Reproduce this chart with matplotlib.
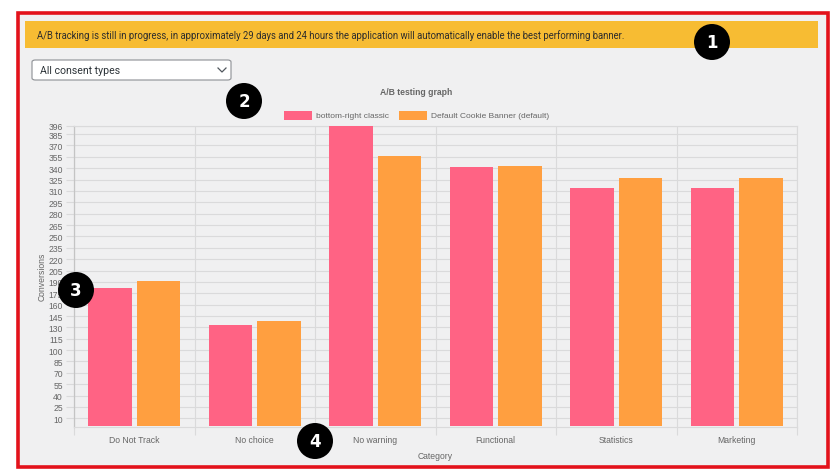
import matplotlib
matplotlib.use("Agg")
import matplotlib.pyplot as plt
from matplotlib.patches import Rectangle, Ellipse, FancyBboxPatch
import numpy as np

categories = ["Do Not Track", "No choice", "No warning", "Functional", "Statistics", "Marketing"]
series_names = ["bottom-right classic", "Default Cookie Banner (default)"]
classic_vals = [182, 133, 396, 342, 314, 314]
default_vals = [191, 139, 356, 343, 327, 327]
y_ticks = [10, 25, 40, 55, 70, 85, 100, 115, 130, 145, 160, 175, 190, 205, 220, 235,
           250, 265, 280, 295, 310, 325, 340, 355, 370, 385, 396]

W, H = 840, 477
PINK = "#ff6384"
ORANGE = "#ff9f40"
BG = "#f0f0f1"
GRID = "#dadadb"
TXT = "#666666"
FONT = "Liberation Sans"

fig = plt.figure(figsize=(W / 100, H / 100), dpi=100)
fig.patch.set_facecolor("white")

def fx(x):
    return x / W

def fy(y):
    return 1 - y / H

def frect(x0, y0, x1, y1, **kw):
    r = Rectangle((fx(x0), fy(y1)), fx(x1) - fx(x0), fy(y0) - fy(y1),
                  transform=fig.transFigure, **kw)
    fig.add_artist(r)
    return r

# panel with red border
frect(18, 14, 828, 468, facecolor=BG, edgecolor="#e3121b", linewidth=2.6, zorder=0)
# yellow banner
frect(25, 22, 818, 49, facecolor="#f7bc33", edgecolor="none", zorder=1)
fig.text(fx(37), fy(36), "A/B tracking is still in progress, in approximately 29 days and 24 hours the application will automatically enable the best performing banner.",
         fontsize=6.85, family="Roboto", color="#2c2c2c", va="center", ha="left", zorder=2)

# dropdown
dd = FancyBboxPatch((fx(32), fy(81)), fx(231) - fx(32), fy(61) - fy(81),
                    boxstyle="round,pad=0,rounding_size=0.004", transform=fig.transFigure,
                    facecolor="white", edgecolor="#8c8f94", linewidth=0.8, zorder=2)
fig.add_artist(dd)
fig.text(fx(40), fy(71), "All consent types", fontsize=7.6, family="Roboto", color="#2c3338",
         va="center", ha="left", zorder=3)
fig.add_artist(plt.Line2D([fx(218), fx(222), fx(226)], [fy(69), fy(73), fy(69)],
                          transform=fig.transFigure, color="#50575e", linewidth=0.9, zorder=3))

# chart title
fig.text(fx(416), fy(93), "A/B testing graph", fontsize=6.2, family=FONT, weight="bold",
         color=TXT, ha="center", va="center")

# legend
frect(284, 112, 312, 121, facecolor=PINK, edgecolor="none", zorder=2)
fig.text(fx(316), fy(116.5), series_names[0], fontsize=6.05, family=FONT, color=TXT,
         ha="left", va="center")
frect(399, 112, 427, 121, facecolor=ORANGE, edgecolor="none", zorder=2)
fig.text(fx(431), fy(116.5), series_names[1], fontsize=6.05, family=FONT, color=TXT,
         ha="left", va="center")

# main axes
ax_l, ax_r, ax_t, ax_b = 74, 797, 126.7, 427.7
ax = fig.add_axes([fx(ax_l), fy(ax_b), fx(ax_r) - fx(ax_l), fy(ax_t) - fy(ax_b)])
ax.set_facecolor("none")

x = np.arange(len(categories))
bw = 0.36
ax.bar(x - 0.2, classic_vals, width=bw, color=PINK, zorder=3)
ax.bar(x + 0.2, default_vals, width=bw, color=ORANGE, zorder=3)

ax.set_xlim(-0.5, len(categories) - 0.5)
ax.set_ylim(-1, 396)

ax.set_yticks(y_ticks)
ax.set_yticklabels([str(v) for v in y_ticks], fontsize=6.2, family=FONT, color=TXT)
ax.set_xticks(x)
ax.set_xticklabels(categories, fontsize=6.2, family=FONT, color=TXT)
ax.set_xticks(np.arange(-0.5, len(categories), 1.0), minor=True)

ax.tick_params(axis="y", which="major", length=6, color=GRID, width=0.8, pad=2)
ax.tick_params(axis="x", which="major", length=0, pad=6)
ax.tick_params(axis="x", which="minor", length=6, color=GRID, width=0.8)
ax.grid(axis="y", which="major", color=GRID, linewidth=0.8, zorder=0)
ax.grid(axis="x", which="minor", color=GRID, linewidth=0.8, zorder=0)
ax.set_axisbelow(True)

for s in ["top", "right", "bottom"]:
    ax.spines[s].set_color(GRID)
    ax.spines[s].set_linewidth(0.8)
ax.spines["left"].set_color("#c4c4c4")
ax.spines["left"].set_linewidth(0.9)

fig.text(fx(42), fy(277), "Conversions", fontsize=6.2, family=FONT, color=TXT,
         rotation=90, ha="center", va="center")
fig.text(fx(435), fy(457), "Category", fontsize=6.2, family=FONT, color=TXT,
         ha="center", va="center")

# numbered markers
markers = [("1", 712, 43), ("2", 244, 102), ("3", 76, 291), ("4", 315, 442)]
for label, cx, cy in markers:
    e = Ellipse((fx(cx), fy(cy)), 36 / W, 36 / H, transform=fig.transFigure,
                facecolor="black", edgecolor="none", zorder=10)
    fig.add_artist(e)
    fig.text(fx(cx), fy(cy), label, fontsize=12, family="DejaVu Sans", weight="bold",
             color="white", ha="center", va="center", zorder=11)

fig.savefig("out.png", dpi=100, facecolor=fig.get_facecolor())
